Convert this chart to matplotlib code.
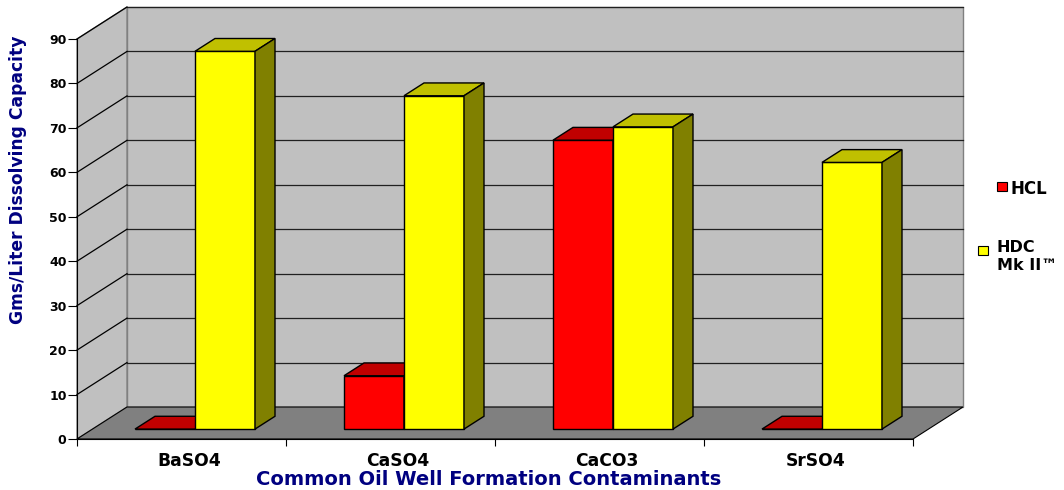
import matplotlib.pyplot as plt
from matplotlib.patches import Polygon, Rectangle

# --- data ---
categories = ["BaSO4", "CaSO4", "CaCO3", "SrSO4"]
hcl = [0, 12, 65, 0]
hdc = [85, 75, 68, 60]
series_names = ["HCL", "HDC\nMk II\u2122"]
y_ticks = [0, 10, 20, 30, 40, 50, 60, 70, 80, 90]

# --- look ---
W, H = 1064, 490
plt.rcParams["font.family"] = ["DejaVu Sans"]
plt.rcParams["font.weight"] = "bold"
navy = "#000080"
faces = {
    "HCL": ("#FF0000", "#C00000", "#800000"),
    "HDC": ("#FFFF00", "#C0C000", "#808000"),
}

fig = plt.figure(figsize=(W / 100, H / 100), dpi=100)
ax = fig.add_axes([77 / W, (H - 439) / H, 836 / W, 400 / H])
n = len(categories)
ymax = y_ticks[-1]
ax.set_xlim(0, n)
ax.set_ylim(0, ymax)

# depth of the 3d box in data units
dx = 50 / 209
dy = 32 / (400 / ymax)

# --- walls and floor ---
wall = "#C0C0C0"
ax.add_patch(Polygon([(dx, dy), (n + dx, dy), (n + dx, ymax + dy), (dx, ymax + dy)],
                     closed=True, fc=wall, ec="#808080", lw=1, clip_on=False, zorder=0))
ax.add_patch(Polygon([(0, 0), (dx, dy), (dx, ymax + dy), (0, ymax)],
                     closed=True, fc=wall, ec="#808080", lw=1, clip_on=False, zorder=0))
ax.add_patch(Polygon([(0, 0), (n, 0), (n + dx, dy), (dx, dy)],
                     closed=True, fc="#808080", ec="black", lw=0.8, clip_on=False, zorder=0.5))

for v in y_ticks[1:]:
    ax.plot([dx, n + dx], [v + dy, v + dy], color="#202020", lw=0.9, clip_on=False, zorder=0.3)
    ax.plot([0, dx], [v, v + dy], color="black", lw=0.9, clip_on=False, zorder=0.3)

# --- 3d bars ---
bw = 60 / 209
f0 = 0.31   # where the bar front sits in the depth
fd = 0.40   # bar depth
shift = -2 / 209


def bar3d(x0, val, colors, z):
    front, top, side = colors
    b = f0 * dy
    x = x0 + f0 * dx
    ax.bar(x, val, width=bw, bottom=b, align="edge", color=front,
           edgecolor="black", linewidth=1, zorder=z)
    t = b + val
    ax.add_patch(Polygon([(x, t), (x + bw, t), (x + bw + fd * dx, t + fd * dy), (x + fd * dx, t + fd * dy)],
                         closed=True, fc=top, ec="black", lw=1, zorder=z, clip_on=False))
    ax.add_patch(Polygon([(x + bw, b), (x + bw + fd * dx, b + fd * dy),
                          (x + bw + fd * dx, t + fd * dy), (x + bw, t)],
                         closed=True, fc=side, ec="black", lw=1, zorder=z, clip_on=False))


for i in range(n):
    c = i + 0.5 + shift
    bar3d(c - bw, hcl[i], faces["HCL"], 2 + 2 * i)
    bar3d(c, hdc[i], faces["HDC"], 3 + 2 * i)

# --- axes ---
for s in ["top", "right"]:
    ax.spines[s].set_visible(False)
ax.spines["left"].set_color("black")
ax.spines["bottom"].set_color("black")
ax.spines["left"].set_zorder(1)
ax.spines["bottom"].set_zorder(1)
ax.patch.set_visible(False)

ax.set_yticks(y_ticks)
ax.tick_params(axis="y", direction="out", length=6.5, width=0.8, pad=1, labelsize=9)
ax.set_xticks(range(n + 1))
ax.set_xticklabels([])
ax.set_xticks([i + 0.5 + 0.035 for i in range(n)], minor=True)
ax.set_xticklabels(categories, minor=True, fontsize=12.3, fontweight="bold")
ax.tick_params(axis="x", which="major", direction="out", length=5, width=0.8)
ax.tick_params(axis="x", which="minor", length=0, pad=9)

ax.set_xlabel("Common Oil Well Formation Contaminants", color=navy, fontsize=14, fontweight="bold")
ax.xaxis.set_label_coords((489 - 77) / 836, -(479 - 439) / 400)
ax.xaxis.label.set_va("center")
ax.set_ylabel("Gms/Liter Dissolving Capacity", color=navy, fontsize=12.3, fontweight="bold")
ax.yaxis.set_label_coords((18 - 77) / 836, (439 - 180) / 400)
ax.yaxis.label.set_va("center")

# --- legend ---
fig.patches.append(Rectangle((997 / W, 1 - 191 / H), 10 / W, 9 / H, transform=fig.transFigure,
                             fc=faces["HCL"][0], ec="black", lw=0.8))
fig.text(1011 / W, 1 - 189 / H, series_names[0], fontsize=12, fontweight="bold", va="center")
fig.patches.append(Rectangle((978 / W, 1 - 255 / H), 10 / W, 9 / H, transform=fig.transFigure,
                             fc=faces["HDC"][0], ec="black", lw=0.8))
fig.text(997 / W, 1 - 256 / H, series_names[1], fontsize=11.5, fontweight="bold", va="center",
         linespacing=1.25)

fig.savefig("out.png", dpi=100)
